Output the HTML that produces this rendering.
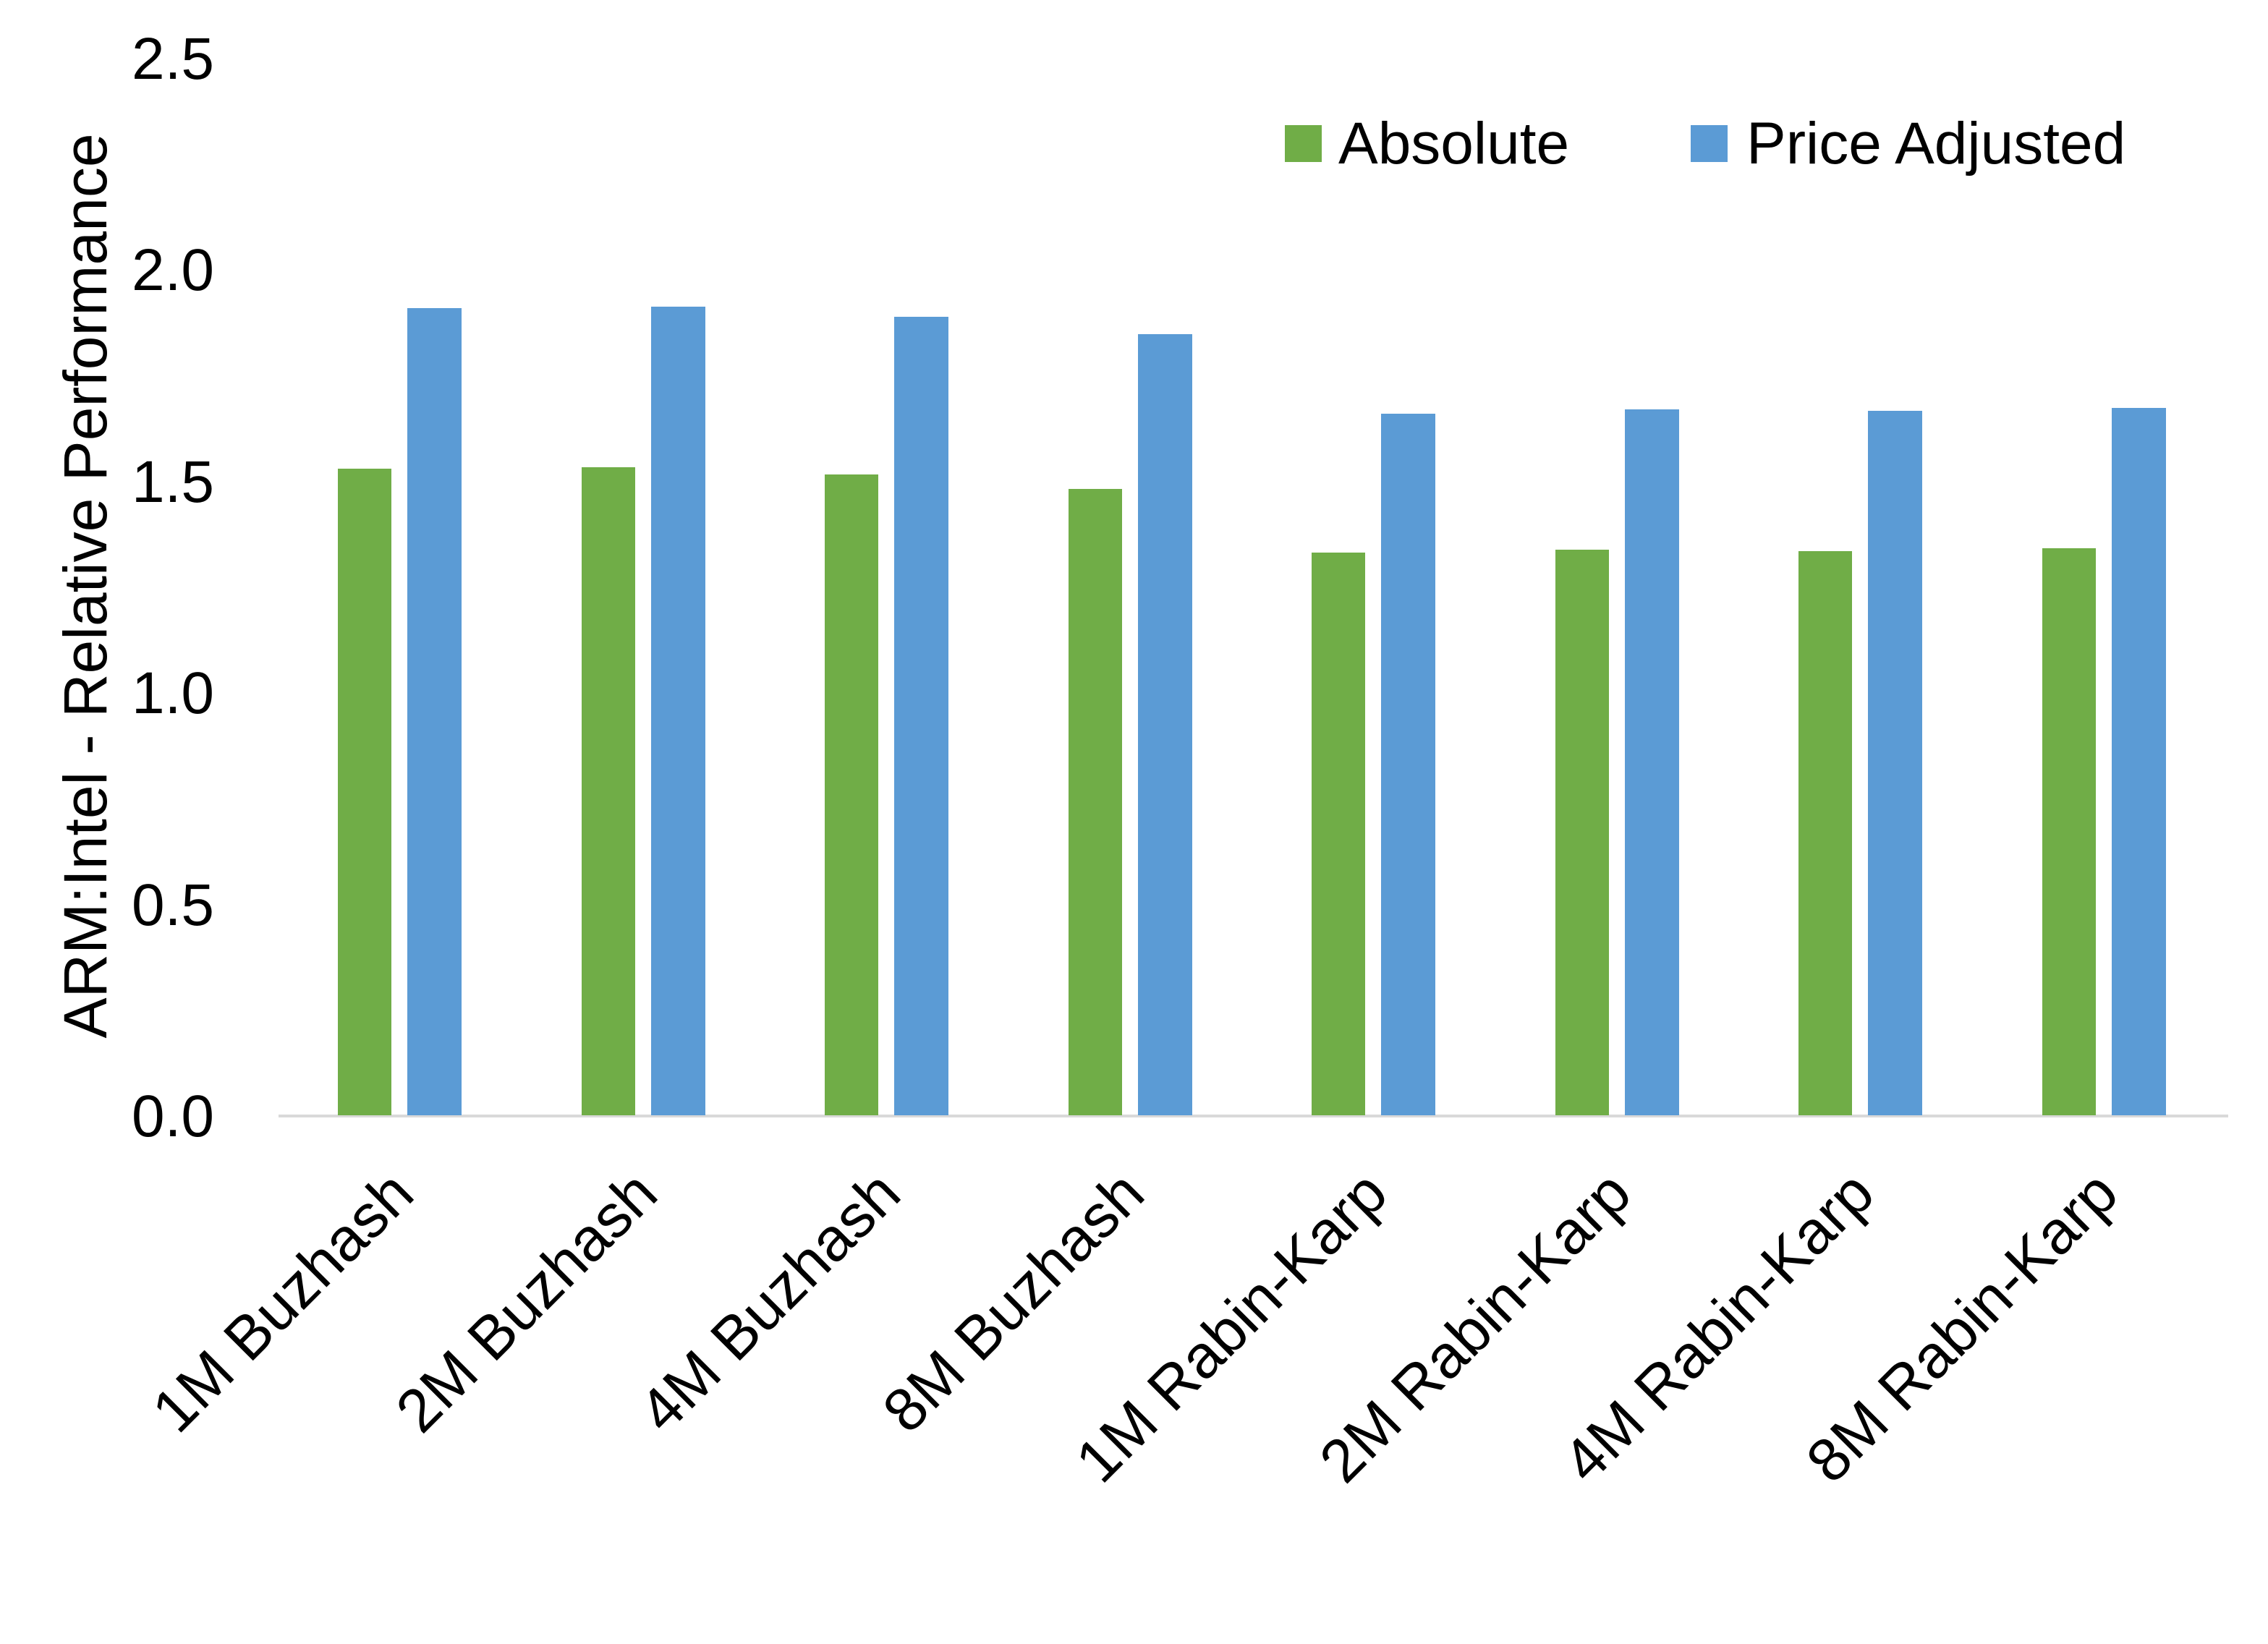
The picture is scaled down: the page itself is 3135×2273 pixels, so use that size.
<!DOCTYPE html>
<html><head><meta charset="utf-8"><style>html,body{margin:0;padding:0;background:#fff}svg{display:block}</style></head>
<body>
<svg width="3135" height="2273" xmlns="http://www.w3.org/2000/svg" font-family="'Liberation Sans', sans-serif">
<rect width="3135" height="2273" fill="#fff"/>
<line x1="385" y1="1543" x2="3080" y2="1543" stroke="#d9d9d9" stroke-width="4"/>
<g font-size="82" text-anchor="end" fill="#000">
<text x="296" y="1571">0.0</text>
<text x="296" y="1279">0.5</text>
<text x="296" y="986">1.0</text>
<text x="296" y="694">1.5</text>
<text x="296" y="401">2.0</text>
<text x="296" y="109">2.5</text>
</g>
<text transform="translate(147,810) rotate(-90)" font-size="84" text-anchor="middle">ARM:Intel - Relative Performance</text>
<rect x="1776" y="173" width="51" height="51" fill="#70ad47"/>
<text x="1850" y="226" font-size="82">Absolute</text>
<rect x="2337" y="173" width="51" height="51" fill="#5b9bd5"/>
<text x="2414" y="226" font-size="82">Price Adjusted</text>
<g fill="#70ad47">
<rect x="467" y="648" width="74" height="894"/>
<rect x="804" y="646" width="74" height="896"/>
<rect x="1140" y="656" width="74" height="886"/>
<rect x="1477" y="676" width="74" height="866"/>
<rect x="1813" y="764" width="74" height="778"/>
<rect x="2150" y="760" width="74" height="782"/>
<rect x="2486" y="762" width="74" height="780"/>
<rect x="2823" y="758" width="74" height="784"/>
</g>
<g fill="#5b9bd5">
<rect x="563" y="426" width="75" height="1116"/>
<rect x="900" y="424" width="75" height="1118"/>
<rect x="1236" y="438" width="75" height="1104"/>
<rect x="1573" y="462" width="75" height="1080"/>
<rect x="1909" y="572" width="75" height="970"/>
<rect x="2246" y="566" width="75" height="976"/>
<rect x="2582" y="568" width="75" height="974"/>
<rect x="2919" y="564" width="75" height="978"/>
</g>
<g font-size="84" text-anchor="end">
<text transform="translate(576,1655) rotate(-45)">1M Buzhash</text>
<text transform="translate(913,1655) rotate(-45)">2M Buzhash</text>
<text transform="translate(1249,1655) rotate(-45)">4M Buzhash</text>
<text transform="translate(1586,1655) rotate(-45)">8M Buzhash</text>
<text transform="translate(1922,1655) rotate(-45)">1M Rabin-Karp</text>
<text transform="translate(2259,1655) rotate(-45)">2M Rabin-Karp</text>
<text transform="translate(2595,1655) rotate(-45)">4M Rabin-Karp</text>
<text transform="translate(2932,1655) rotate(-45)">8M Rabin-Karp</text>
</g>
</svg>
</body></html>
